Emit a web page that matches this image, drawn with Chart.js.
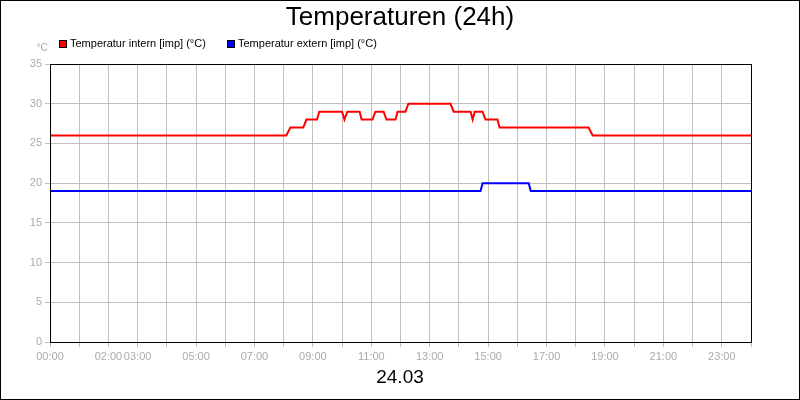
<!DOCTYPE html>
<html>
<head>
<meta charset="utf-8">
<script src="https://cdn.jsdelivr.net/npm/chart.js@4"></script>
<style>
  html, body { margin: 0; padding: 0; background: #fff; }
  #wrap { width: 800px; height: 400px; position: relative; }
</style>
</head>
<body>
<div id="wrap"><canvas id="chart" width="800" height="400"></canvas></div>
<script>
// ── Data (hours since 00:00, °C) ──
const internHours = [0, 8.09, 8.23, 8.67, 8.78, 9.14, 9.22, 10.0, 10.08, 10.18, 10.6, 10.67, 11.04, 11.14, 11.42, 11.52, 11.83, 11.9, 12.17, 12.27, 13.71, 13.82, 14.4, 14.47, 14.54, 14.81, 14.91, 15.32, 15.39, 18.44, 18.58, 24];
const internTemps = [26, 26, 27, 27, 28, 28, 29, 29, 28, 29, 29, 28, 28, 29, 29, 28, 28, 29, 29, 30, 30, 29, 29, 28, 29, 29, 28, 28, 27, 27, 26, 26];
const externHours = [0, 14.74, 14.81, 16.39, 16.46, 24];
const externTemps = [19, 19, 20, 20, 19, 19];
const labelHours  = [0, 2, 3, 5, 7, 9, 11, 13, 15, 17, 19, 21, 23];
const yTicks      = [0, 5, 10, 15, 20, 25, 30, 35];

const toPoints = (xs, ys) => xs.map((x, i) => ({ x, y: ys[i] }));
const pad2 = n => String(n).padStart(2, '0');

// ── Decorations: frame, title, legend, unit, date ──
const decor = {
  id: 'decor',
  afterDraw(chart) {
    const { ctx, chartArea: a } = chart;
    ctx.save();
    ctx.strokeStyle = '#000';
    ctx.lineWidth = 1;
    ctx.strokeRect(0.5, 0.5, 799, 399);
    ctx.strokeRect(a.left + 0.5, a.top + 0.5, a.right - a.left, a.bottom - a.top);

    ctx.fillStyle = '#000';
    ctx.textAlign = 'center';
    ctx.textBaseline = 'middle';
    ctx.font = '26px "Liberation Sans", Arial, sans-serif';
    ctx.fillText('Temperaturen (24h)', 400, 18);
    ctx.font = '19px "Liberation Sans", Arial, sans-serif';
    ctx.fillText('24.03', 400, 378);

    ctx.fillStyle = '#aaa';
    ctx.font = '10px "Liberation Sans", Arial, sans-serif';
    ctx.fillText('°C', 42, 48);

    const items = [['Temperatur intern [imp] (°C)', '#ff0000', 59], ['Temperatur extern [imp] (°C)', '#0000ff', 227]];
    ctx.textAlign = 'left';
    ctx.font = '11px "Liberation Sans", Arial, sans-serif';
    items.forEach(([t, c, x]) => {
      ctx.fillStyle = c;
      ctx.fillRect(x, 40, 7, 7);
      ctx.strokeStyle = '#000';
      ctx.strokeRect(x + 0.5, 40.5, 7, 7);
      ctx.fillStyle = '#000';
      ctx.fillText(t, x + 11, 44);
    });
    ctx.restore();
  }
};

new Chart(document.getElementById('chart'), {
  type: 'line',
  data: {
    datasets: [
      { label: 'Temperatur intern [imp] (°C)', data: toPoints(internHours, internTemps), borderColor: '#ff0000', borderWidth: 2, pointRadius: 0, tension: 0 },
      { label: 'Temperatur extern [imp] (°C)', data: toPoints(externHours, externTemps), borderColor: '#0000ff', borderWidth: 2, pointRadius: 0, tension: 0 },
    ]
  },
  options: {
    responsive: false,
    animation: false,
    devicePixelRatio: 1,
    layout: { padding: { top: 64, right: 49, left: 0, bottom: 0 } },
    plugins: { legend: { display: false }, tooltip: { enabled: false } },
    scales: {
      x: {
        type: 'linear', min: 0, max: 24,
        afterBuildTicks: s => { s.ticks = Array.from({ length: 25 }, (_, h) => ({ value: h })); },
        afterFit: s => { s.height = 58; },
        grid: { color: '#c0c0c0', tickLength: 5 },
        border: { color: '#000' },
        ticks: {
          color: '#aaa', maxRotation: 0, autoSkip: false, padding: 3,
          font: { size: 11, family: '"Liberation Sans Narrow", "Liberation Sans", sans-serif' },
          callback: v => labelHours.includes(v) ? pad2(v) + ':00' : ''
        }
      },
      y: {
        min: 0, max: 35,
        afterBuildTicks: s => { s.ticks = yTicks.map(v => ({ value: v })); },
        afterFit: s => { s.width = 50; },
        grid: { color: '#c0c0c0', tickLength: 5 },
        border: { color: '#000' },
        ticks: { color: '#aaa', padding: 3, font: { size: 11, family: '"Liberation Sans", sans-serif' } }
      }
    }
  },
  plugins: [decor]
});
</script>
</body>
</html>
